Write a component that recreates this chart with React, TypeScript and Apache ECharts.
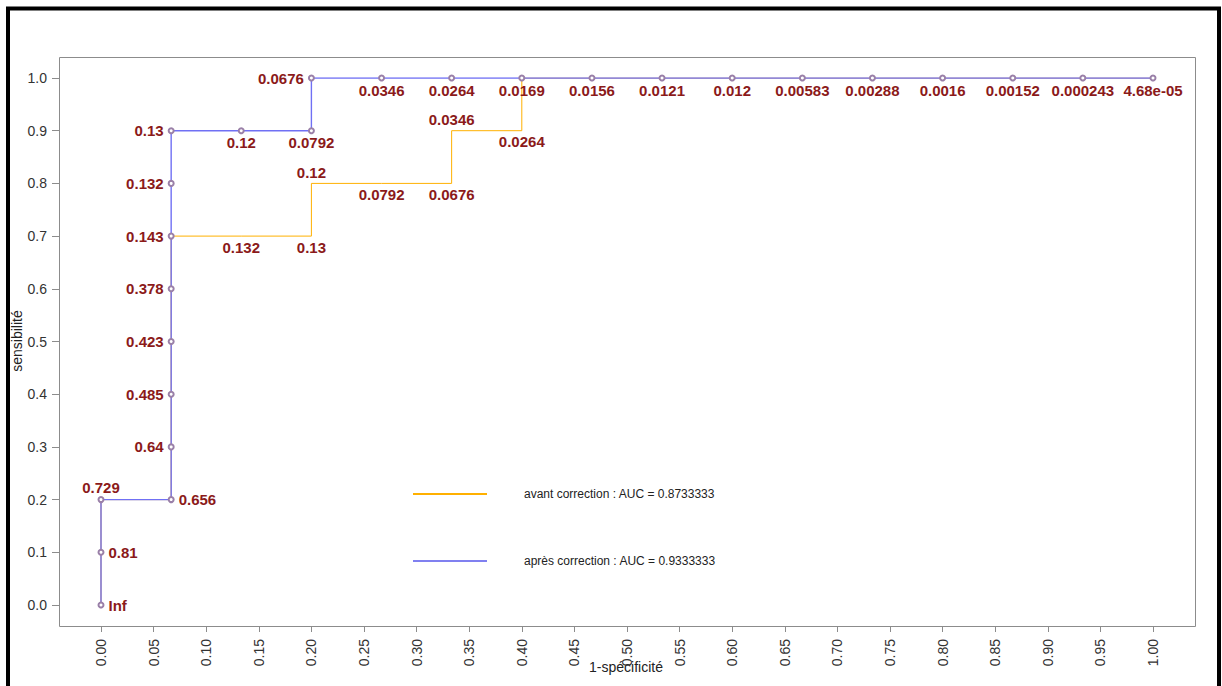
import React, { useEffect, useRef } from "react";
import * as echarts from "echarts";

// "avant correction" ROC curve (orange)
const avantFpr = [0, 0, 0, 0.0667, 0.0667, 0.0667, 0.0667, 0.0667, 0.0667, 0.1333, 0.2, 0.2, 0.2667, 0.3333, 0.3333, 0.4, 0.4, 0.4667, 0.5333, 0.6, 0.6667, 0.7333, 0.8, 0.8667, 0.9333, 1];
const avantTpr = [0, 0.1, 0.2, 0.2, 0.3, 0.4, 0.5, 0.6, 0.7, 0.7, 0.7, 0.8, 0.8, 0.8, 0.9, 0.9, 1, 1, 1, 1, 1, 1, 1, 1, 1, 1];
const avantCut = ["", "", "", "", "", "", "", "", "", "0.132", "0.13", "0.12", "0.0792", "0.0676", "0.0346", "0.0264", "", "", "", "", "", "", "", "", "", ""];
const avantPos = ["right", "right", "top", "right", "left", "left", "left", "left", "left", "bottom", "bottom", "top", "bottom", "bottom", "top", "bottom", "bottom", "bottom", "bottom", "bottom", "bottom", "bottom", "bottom", "bottom", "bottom", "bottom"];

// "après correction" ROC curve (blue)
const apresFpr = [0, 0, 0, 0.0667, 0.0667, 0.0667, 0.0667, 0.0667, 0.0667, 0.0667, 0.0667, 0.1333, 0.2, 0.2, 0.2667, 0.3333, 0.4, 0.4667, 0.5333, 0.6, 0.6667, 0.7333, 0.8, 0.8667, 0.9333, 1];
const apresTpr = [0, 0.1, 0.2, 0.2, 0.3, 0.4, 0.5, 0.6, 0.7, 0.8, 0.9, 0.9, 0.9, 1, 1, 1, 1, 1, 1, 1, 1, 1, 1, 1, 1, 1];
const apresCut = ["Inf", "0.81", "0.729", "0.656", "0.64", "0.485", "0.423", "0.378", "0.143", "0.132", "0.13", "0.12", "0.0792", "0.0676", "0.0346", "0.0264", "0.0169", "0.0156", "0.0121", "0.012", "0.00583", "0.00288", "0.0016", "0.00152", "0.000243", "4.68e-05"];
const apresPos = ["right", "right", "top", "right", "left", "left", "left", "left", "left", "left", "left", "bottom", "bottom", "left", "bottom", "bottom", "bottom", "bottom", "bottom", "bottom", "bottom", "bottom", "bottom", "bottom", "bottom", "bottom"];

const seriesNames = ["avant correction : AUC = 0.8733333", "après correction : AUC = 0.9333333"];
const xTitle = "1-spécificité";
const yTitle = "sensibilité";

const FONT = 'Arial, "Liberation Sans", Helvetica, sans-serif';
const ORANGE = "#FFB000";
const BLUE = "#7070F4";
const LABEL_RED = "#8B1A1A";
const GRAY = "#8c8c8c";

function buildData(fpr: number[], tpr: number[], cut: string[], pos: string[]) {
  return fpr.map((x, i) => ({
    value: [x, tpr[i]],
    label: {
      show: cut[i] !== "",
      formatter: cut[i],
      position: pos[i] as any,
      distance: pos[i] === "left" || pos[i] === "right" ? 4 : 1,
      color: LABEL_RED,
      fontWeight: "bold" as const,
      fontSize: 15,
      fontFamily: FONT,
    },
  }));
}

export default function App() {
  const ref = useRef<HTMLDivElement>(null);
  useEffect(() => {
    const chart = echarts.init(ref.current!, null, { renderer: "svg" });
    chart.setOption({
      animation: false,
      backgroundColor: "#ffffff",
      grid: { left: 101, right: 69, top: 78, bottom: 81, containLabel: false },
      xAxis: {
        type: "value",
        min: 0,
        max: 1,
        interval: 0.05,
        offset: 21,
        axisLine: { show: true, onZero: false, lineStyle: { color: GRAY, width: 1 } },
        axisTick: { show: true, length: 6, lineStyle: { color: GRAY } },
        splitLine: { show: false },
        axisLabel: {
          rotate: 90,
          margin: 13,
          fontSize: 14,
          color: "#333",
          fontFamily: FONT,
          formatter: (v: number) => v.toFixed(2),
        },
      },
      yAxis: {
        type: "value",
        min: 0,
        max: 1,
        interval: 0.1,
        offset: 42,
        axisLine: { show: true, onZero: false, lineStyle: { color: GRAY, width: 1 } },
        axisTick: { show: true, length: 7, lineStyle: { color: GRAY } },
        splitLine: { show: false },
        axisLabel: {
          margin: 12,
          fontSize: 14,
          color: "#333",
          fontFamily: FONT,
          formatter: (v: number) => v.toFixed(1),
        },
      },
      legend: {
        orient: "vertical",
        left: 408,
        top: 483,
        itemWidth: 74,
        itemHeight: 2,
        itemGap: 55,
        icon: "rect",
        selectedMode: false,
        textStyle: { fontSize: 12, color: "#222", fontFamily: FONT, padding: [0, 0, 0, 32] },
        data: [
          { name: seriesNames[0], itemStyle: { color: ORANGE, borderWidth: 0 } },
          { name: seriesNames[1], itemStyle: { color: "#8080F0", borderWidth: 0 } },
        ],
      },
      graphic: [
        {
          type: "rect",
          shape: { x: 59.5, y: 57.5, width: 1136, height: 569 },
          style: { fill: "none", stroke: GRAY, lineWidth: 1 },
          silent: true,
        },
        {
          type: "rect",
          shape: { x: 8, y: 8.5, width: 1211, height: 700 },
          style: { fill: "none", stroke: "#000", lineWidth: 4 },
          silent: true,
        },
        {
          type: "text",
          x: 17,
          y: 341,
          rotation: Math.PI / 2,
          style: { text: yTitle, x: 0, y: 0, align: "center", verticalAlign: "middle", fontSize: 14, fill: "#222", fontFamily: FONT },
          silent: true,
        },
        {
          type: "text",
          x: 626,
          y: 667,
          style: { text: xTitle, x: 0, y: 0, align: "center", verticalAlign: "middle", fontSize: 14, fill: "#222", fontFamily: FONT },
          silent: true,
        },
      ],
      series: [
        {
          name: seriesNames[0],
          type: "line",
          data: buildData(avantFpr, avantTpr, avantCut, avantPos),
          symbol: "circle",
          symbolSize: 5,
          showSymbol: true,
          itemStyle: { color: "rgba(0,0,0,0)", borderWidth: 0 },
          lineStyle: { color: ORANGE, width: 1 },
          z: 2,
        },
        {
          name: seriesNames[1],
          type: "line",
          data: buildData(apresFpr, apresTpr, apresCut, apresPos),
          symbol: "emptyCircle",
          symbolSize: 5,
          showSymbol: true,
          itemStyle: { color: "#9a80a8", borderWidth: 0.9 },
          lineStyle: { color: BLUE, width: 1.4 },
          z: 3,
        },
      ],
    });
    return () => chart.dispose();
  }, []);
  return (
    <div
      ref={ref}
      style={{ position: "fixed", left: 0, top: 0, width: 1222, height: 686, background: "#fff" }}
    />
  );
}
